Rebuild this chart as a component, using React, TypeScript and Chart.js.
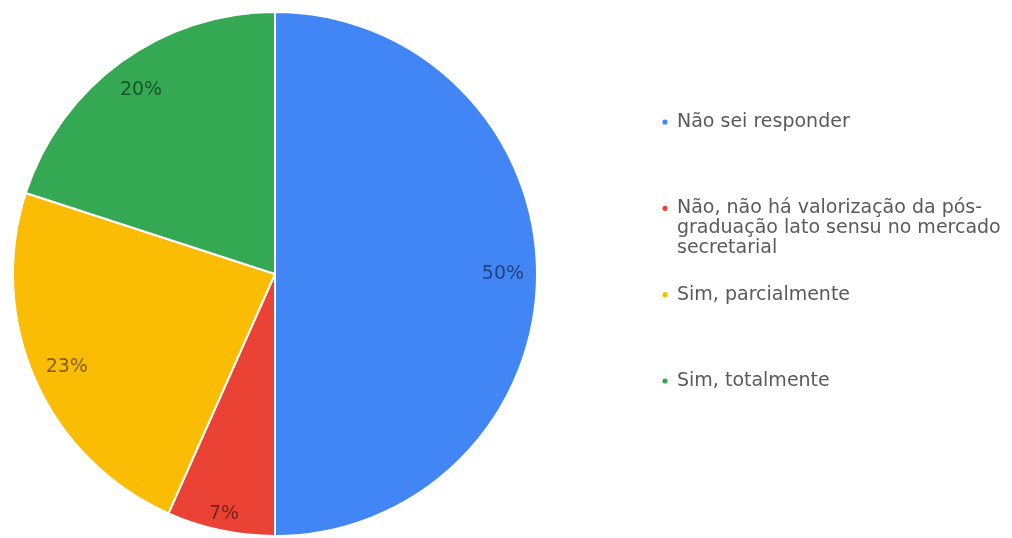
import React, { useEffect, useRef } from "react";
import { Chart, registerables } from "chart.js";

Chart.register(...registerables);

const categories: string[] = [
  "Não sei responder",
  "Não, não há valorização da pós-graduação lato sensu no mercado secretarial",
  "Sim, parcialmente",
  "Sim, totalmente",
];
const responses: number[] = [15, 2, 7, 6];
const sliceColors: string[] = ["#4285F4", "#EA4335", "#FBBC04", "#34A853"];

const LEGEND_FONT = '19px "DejaVu Sans"';
const LABEL_FONT = '19px "DejaVu Sans"';

function wrapText(ctx: CanvasRenderingContext2D, text: string, maxWidth: number): string[] {
  const re = /\S+?-(?=\S)|\S+/g;
  const tokens: { t: string; sep: string }[] = [];
  let m: RegExpExecArray | null;
  while ((m = re.exec(text)) !== null) {
    const prev = m.index > 0 ? text[m.index - 1] : "";
    tokens.push({ t: m[0], sep: prev === " " ? " " : "" });
  }
  const lines: string[] = [];
  let cur = "";
  for (const tok of tokens) {
    const cand = cur === "" ? tok.t : cur + tok.sep + tok.t;
    if (cur !== "" && ctx.measureText(cand).width > maxWidth) {
      lines.push(cur);
      cur = tok.t;
    } else {
      cur = cand;
    }
  }
  if (cur) lines.push(cur);
  return lines;
}

const sliceLabelPlugin = {
  id: "sliceLabels",
  afterDatasetsDraw(chart: any) {
    const ctx = chart.ctx as CanvasRenderingContext2D;
    const meta = chart.getDatasetMeta(0);
    const data = chart.data.datasets[0].data as number[];
    const total = data.reduce((a, b) => a + b, 0);
    ctx.save();
    ctx.font = LABEL_FONT;
    ctx.fillStyle = "rgba(0,0,0,0.5)";
    ctx.textAlign = "center";
    ctx.textBaseline = "middle";
    meta.data.forEach((arc: any, i: number) => {
      const p = arc.getProps(["x", "y", "startAngle", "endAngle", "outerRadius"], true);
      const share = data[i] / total;
      const mid = (p.startAngle + p.endAngle) / 2;
      const r = p.outerRadius * (share < 0.1 ? 0.935 : 0.87);
      ctx.fillText(Math.round(share * 100) + "%", p.x + Math.cos(mid) * r, p.y + Math.sin(mid) * r);
    });
    ctx.restore();
  },
};

const sideLegendPlugin = {
  id: "sideLegend",
  afterDraw(chart: any) {
    const ctx = chart.ctx as CanvasRenderingContext2D;
    const labels = chart.data.labels as string[];
    const colors = chart.data.datasets[0].backgroundColor as string[];
    const x0 = 665;
    const textX = 677;
    const yFirst = 122;
    const yLast = 381;
    const step = (yLast - yFirst) / (labels.length - 1);
    const lineH = 20;
    ctx.save();
    ctx.font = LEGEND_FONT;
    ctx.textBaseline = "middle";
    ctx.textAlign = "left";
    labels.forEach((lab, i) => {
      const y = yFirst + i * step;
      ctx.fillStyle = colors[i];
      ctx.beginPath();
      ctx.arc(x0, y, 2.6, 0, Math.PI * 2);
      ctx.fill();
      ctx.fillStyle = "#5a5a5a";
      const lines = wrapText(ctx, lab, 330);
      lines.forEach((ln, k) => ctx.fillText(ln, textX, y + k * lineH));
    });
    ctx.restore();
  },
};

export default function App() {
  const canvasRef = useRef<HTMLCanvasElement | null>(null);

  useEffect(() => {
    document.body.style.margin = "0";
    const canvas = canvasRef.current;
    if (!canvas) return;
    const chart = new Chart(canvas, {
      type: "pie",
      data: {
        labels: categories,
        datasets: [
          {
            data: responses,
            backgroundColor: sliceColors,
            borderColor: "#ffffff",
            borderWidth: 2,
          },
        ],
      },
      options: {
        responsive: false,
        animation: false,
        layout: { padding: { left: 12, top: 11, bottom: 1, right: 474 } },
        plugins: {
          legend: { display: false },
          tooltip: { enabled: false },
        },
      },
      plugins: [sliceLabelPlugin, sideLegendPlugin],
    });
    return () => chart.destroy();
  }, []);

  return (
    <div style={{ width: 1012, height: 538, background: "#ffffff" }}>
      <canvas ref={canvasRef} width={1012} height={538} style={{ display: "block" }} />
    </div>
  );
}
